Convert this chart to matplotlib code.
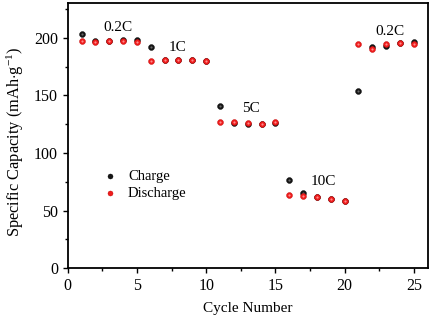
"""Rate capability plot: charge/discharge capacity vs cycle number."""

import matplotlib

matplotlib.use("Agg")
import matplotlib.pyplot as plt
from matplotlib.ticker import MultipleLocator

cycles = list(range(1, 26))
charge = [203.2, 197.5, 197.5, 197.8, 198.0,
          192.5, 180.5, 181.0, 180.6, 180.3,
          141.0, 126.5, 125.5, 125.0, 125.8,
          76.5, 65.2, 61.5, 59.8, 58.3,
          154.0, 192.5, 193.3, 195.5, 196.0]
discharge = [197.0, 196.8, 197.7, 197.7, 196.2,
             180.3, 180.9, 180.9, 180.6, 180.3,
             126.7, 127.0, 125.8, 125.2, 127.2,
             63.8, 62.9, 61.7, 60.0, 58.0,
             194.8, 190.7, 195.0, 195.4, 194.8]
rate_labels = ["0.2C", "1C", "5C", "10C", "0.2C"]
rate_label_x = [3.6, 7.9, 13.2, 18.45, 23.3]
rate_label_y = [209, 192, 138.5, 75.3, 205.7]

plt.rcParams["font.family"] = ["Liberation Serif", "DejaVu Serif"]
plt.rcParams["mathtext.fontset"] = "custom"
plt.rcParams["mathtext.rm"] = "Liberation Serif"
plt.rcParams["mathtext.it"] = "Liberation Serif:italic"

fig = plt.figure(figsize=(4.34, 3.22), dpi=100)
ax = fig.add_axes([67.7 / 434, 1 - 268.3 / 322, 360 / 434, 265 / 322])

ax.scatter(cycles, charge, s=18, c="#151515", edgecolors="#000000", linewidths=0.3,
           zorder=3, label="Charge")
ax.scatter(cycles, discharge, s=18, c="#ee1c1c", edgecolors="#c00000", linewidths=0.3,
           zorder=4, label="Discharge")
# faint highlight for the glossy look
ax.scatter(cycles, charge, s=2.5, c="#666666", linewidths=0, zorder=3.5)
ax.scatter(cycles, discharge, s=2.5, c="#ff8a8a", linewidths=0, zorder=4.5)

for text, x, y in zip(rate_labels, rate_label_x, rate_label_y):
    ax.text(x, y, text, ha="center", va="center", fontsize=11)

ax.set_xlim(0, 26)
ax.set_ylim(0, 230)
ax.xaxis.set_major_locator(MultipleLocator(5))
ax.xaxis.set_minor_locator(MultipleLocator(2.5))
ax.yaxis.set_major_locator(MultipleLocator(50))
ax.yaxis.set_minor_locator(MultipleLocator(25))
ax.tick_params(which="major", direction="out", length=3.5, width=1.0, labelsize=11.5)
ax.tick_params(which="minor", direction="out", length=2.5, width=1.0)
for spine in ax.spines.values():
    spine.set_linewidth(1.3)

ax.set_xlabel("Cycle Number", fontsize=11, labelpad=6)
ax.set_ylabel(r"Specific Capacity (mAh$\cdot$g$^{-1}$)", fontsize=11.8)
ax.yaxis.set_label_coords(-0.117, 0.477)

ax.legend(loc="center left", bbox_to_anchor=(0.06, 0.315), frameon=False, fontsize=10.5,
          handletextpad=0.25, labelspacing=0.3, markerscale=0.85, borderaxespad=0.0)

fig.savefig("out.png", dpi=100)
